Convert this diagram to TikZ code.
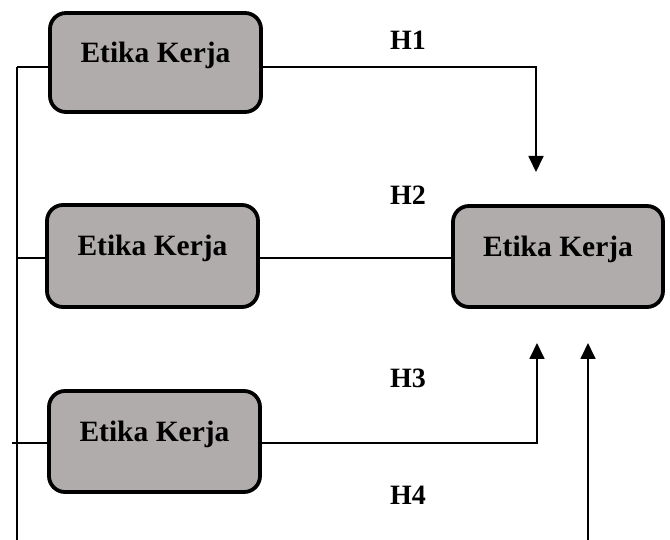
\documentclass[tikz,border=0pt]{standalone}
\usepackage{fontspec}
\setmainfont{Liberation Serif}
\usetikzlibrary{arrows.meta}
\definecolor{boxgray}{RGB}{176,172,171}
\tikzset{
  varbox/.style={draw=black, line width=3.8pt, fill=boxgray, rounded corners=16pt, minimum width=#1, inner sep=0pt},
  boxtext/.style={anchor=base, font=\fontsize{29.5}{32}\selectfont\bfseries, inner sep=0pt},
  hlabel/.style={font=\fontsize{28}{32}\selectfont\bfseries, inner sep=0pt},
  conn/.style={line width=1.8pt},
  arr/.style={conn, -{Triangle[width=15pt,length=16pt]}}
}
\begin{document}
\begin{tikzpicture}[x=1pt,y=-1pt]
\useasboundingbox (0,0) rectangle (670,540);
% boxes
\node[varbox=211pt, minimum height=99pt] (b1) at (155.5,62.5) {};
\node[varbox=211pt, minimum height=102pt] (b2) at (152.5,256) {};
\node[varbox=211pt, minimum height=101pt] (b3) at (154.5,441.5) {};
\node[varbox=210pt, minimum height=101pt] (tg) at (558,256.5) {};
\node[boxtext] (t1) at (b1.center) {Etika Kerja};
\node[boxtext] (t2) at (b2.center) {Etika Kerja};
\node[boxtext] (t3) at (b3.center) {Etika Kerja};
\node[boxtext] (t4) at (tg.center) {Etika Kerja};
% labels
\node[hlabel] (h1) at (408,40) {H1};
\node[hlabel] (h2) at (408,195) {H2};
\node[hlabel] (h3) at (408,378) {H3};
\node[hlabel] (h4) at (408,495) {H4};
% coordinates
\coordinate (a1) at (536,172);
\coordinate (a3) at (537,343);
\coordinate (a4) at (588,343);
\coordinate (a4s) at (588,541);
\coordinate (bustop) at (17,67);
\coordinate (busbot) at (17,541);
\coordinate (b1l) at (17,67);
\coordinate (b2l) at (17,258);
\coordinate (b3l) at (12,443);
% connectors
\draw[arr] ([yshift=-4.5pt]b1.east) -| (a1);
\draw[conn] ([yshift=-2pt]b2.east) -- ([yshift=-2pt]b2.east -| tg.west);
\draw[arr] ([yshift=-1.5pt]b3.east) -| (a3);
\draw[arr] (a4s) -- (a4);
\draw[conn] (bustop) -- (busbot);
\draw[conn] (b1l) -- ([yshift=-4.5pt]b1.west);
\draw[conn] (b2l) -- ([yshift=-2pt]b2.west);
\draw[conn] (b3l) -- ([yshift=-1.5pt]b3.west);
\end{tikzpicture}
\end{document}
